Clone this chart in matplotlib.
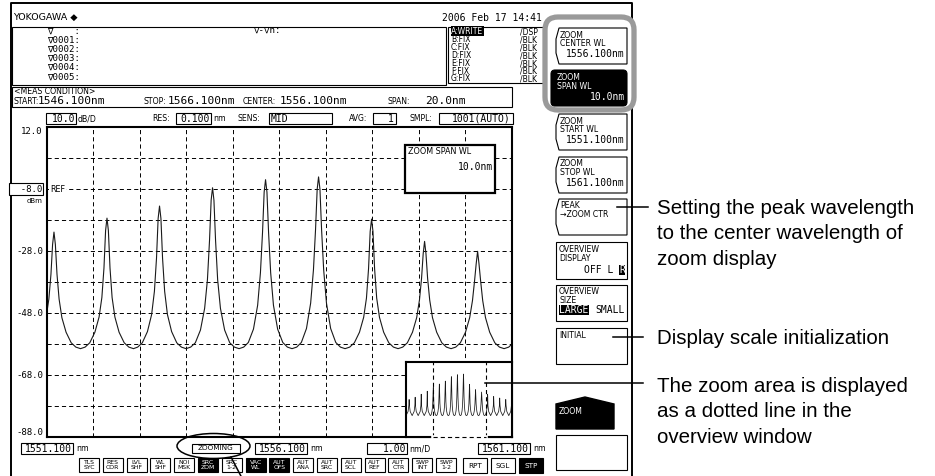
import matplotlib
matplotlib.use('Agg')
import matplotlib.pyplot as plt
from matplotlib.patches import Rectangle, Polygon, FancyBboxPatch, Ellipse

plt.rcParams['lines.scale_dashes'] = False
plt.rcParams['font.family'] = ['DejaVu Sans']

# ---- settings shown on the OSA screen
date_str = '2006 Feb 17 14:41'
meas_start, meas_stop, meas_center, meas_span = 1546.1, 1566.1, 1556.1, 20.0
zoom_start, zoom_center, zoom_stop, zoom_span = 1551.1, 1556.1, 1561.1, 10.0
ref_level = -8.0
db_div = 10.0
nm_div = 1.00
res_nm = 0.100
sens = 'MID'
avg = 1
smpl = '1001(AUTO)'

marker_rows = ['\u2207    :', '\u22070001:', '\u22070002:', '\u22070003:', '\u22070004:', '\u22070005:']
trace_names = ['A:WRITE', 'B:FIX', 'C:FIX', 'D:FIX', 'E:FIX', 'F:FIX', 'G:FIX']
trace_modes = ['/DSP', '/BLK', '/BLK', '/BLK', '/BLK', '/BLK', '/BLK']

btn_top = ['TLS', 'RES', 'LVL', 'WL', 'NOI', 'SRC', 'SRC', 'VAC', 'AUT', 'AUT', 'AUT', 'AUT', 'AUT', 'AUT', 'SWP', 'SWP']
btn_bot = ['SYC', 'COR', 'SHF', 'SHF', 'MSK', 'ZOM', '1-2', 'WL', 'OFS', 'ANA', 'SRC', 'SCL', 'REF', 'CTR', 'INT', '1-2']
btn_on = [0, 0, 0, 0, 0, 1, 0, 1, 1, 0, 0, 0, 0, 0, 0, 0]
sweep_btns = ['RPT', 'SGL', 'STP']
sweep_on = [0, 0, 1]

notes_peak = ['Setting the peak wavelength', 'to the center wavelength of', 'zoom display']
notes_init = ['Display scale initialization']
notes_zoom = ['The zoom area is displayed', 'as a dotted line in the', 'overview window']

trace_wl = [
    1546.10,
    1546.49, 1546.63, 1546.67, 1546.69, 1546.71, 1546.75, 1546.89, 1547.26,
    1547.63, 1547.77, 1547.81, 1547.83, 1547.85, 1547.89, 1548.03, 1548.40,
    1548.77, 1548.91, 1548.95, 1548.97, 1548.99, 1549.03, 1549.17, 1549.54,
    1549.91, 1550.05, 1550.09, 1550.11, 1550.13, 1550.17, 1550.31, 1550.68,
    1550.78, 1550.88, 1550.99, 1551.08, 1551.14, 1551.185, 1551.22, 1551.25, 1551.28, 1551.315, 1551.36, 1551.42, 1551.51, 1551.62, 1551.72, 1551.82,
    1551.92, 1552.02, 1552.13, 1552.22, 1552.28, 1552.325, 1552.36, 1552.39, 1552.42, 1552.455, 1552.50, 1552.56, 1552.65, 1552.76, 1552.86, 1552.96,
    1553.05, 1553.15, 1553.26, 1553.35, 1553.41, 1553.455, 1553.49, 1553.52, 1553.55, 1553.585, 1553.63, 1553.69, 1553.78, 1553.89, 1553.99, 1554.09,
    1554.19, 1554.29, 1554.40, 1554.49, 1554.55, 1554.595, 1554.63, 1554.66, 1554.69, 1554.725, 1554.77, 1554.83, 1554.92, 1555.03, 1555.13, 1555.23,
    1555.33, 1555.43, 1555.54, 1555.63, 1555.69, 1555.735, 1555.77, 1555.80, 1555.83, 1555.865, 1555.91, 1555.97, 1556.06, 1556.17, 1556.27, 1556.37,
    1556.47, 1556.57, 1556.68, 1556.77, 1556.83, 1556.875, 1556.91, 1556.94, 1556.97, 1557.005, 1557.05, 1557.11, 1557.20, 1557.31, 1557.41, 1557.51,
    1557.61, 1557.71, 1557.82, 1557.91, 1557.97, 1558.015, 1558.05, 1558.08, 1558.11, 1558.145, 1558.19, 1558.25, 1558.34, 1558.45, 1558.55, 1558.65,
    1558.75, 1558.85, 1558.96, 1559.05, 1559.11, 1559.155, 1559.19, 1559.22, 1559.25, 1559.285, 1559.33, 1559.39, 1559.48, 1559.59, 1559.69, 1559.79,
    1559.89, 1559.99, 1560.10, 1560.19, 1560.25, 1560.295, 1560.33, 1560.36, 1560.39, 1560.425, 1560.47, 1560.53, 1560.62, 1560.73, 1560.83, 1560.93,
    1561.03, 1561.13,
    1561.30, 1561.44, 1561.48, 1561.50, 1561.52, 1561.56, 1561.70, 1562.07,
    1562.44, 1562.58, 1562.62, 1562.64, 1562.66, 1562.70, 1562.84, 1563.21,
    1563.58, 1563.72, 1563.76, 1563.78, 1563.80, 1563.84, 1563.98, 1564.35,
    1564.72, 1564.86, 1564.90, 1564.92, 1564.94, 1564.98, 1565.12, 1565.49,
    1565.86, 1566.00, 1566.04, 1566.06, 1566.08, 1566.12,
]
trace_dbm = [
    -59.5,
    -54, -46, -41, -38, -41, -46, -54, -59.5,
    -54, -46, -38, -35, -38, -46, -54, -59.5,
    -54, -46, -34, -31, -34, -46, -54, -59.5,
    -54, -46, -30, -27, -30, -46, -54, -59.5,
    -59.0, -57.6, -54.2, -49.5, -43.5, -35.5, -25.9, -21.9, -25.9, -35.5, -43.5, -49.5, -54.2, -57.6, -59.0, -59.5,
    -59.0, -57.6, -54.2, -49.3, -43.0, -33.5, -21.4, -17.4, -21.4, -33.5, -43.0, -49.3, -54.2, -57.6, -59.0, -59.5,
    -59.0, -57.6, -54.0, -48.5, -41.0, -30.3, -17.5, -13.5, -17.5, -30.3, -41.0, -48.5, -54.0, -57.6, -59.0, -59.5,
    -59.0, -57.6, -53.5, -46.5, -37.3, -24.6, -11.6, -7.6, -11.6, -24.6, -37.3, -46.5, -53.5, -57.6, -59.0, -59.5,
    -59.0, -57.5, -53.2, -45.5, -35.0, -22.0, -9.0, -5.0, -9.0, -22.0, -35.0, -45.5, -53.2, -57.5, -59.0, -59.5,
    -59.0, -57.5, -53.0, -44.8, -34.1, -21.1, -8.1, -4.1, -8.1, -21.1, -34.1, -44.8, -53.0, -57.5, -59.0, -59.5,
    -59.0, -57.6, -54.2, -49.4, -43.2, -33.7, -21.7, -17.7, -21.7, -33.7, -43.2, -49.4, -54.2, -57.6, -59.0, -59.5,
    -59.0, -57.6, -54.2, -49.5, -43.8, -36.8, -28.9, -24.9, -28.9, -36.8, -43.8, -49.5, -54.2, -57.6, -59.0, -59.5,
    -59.0, -57.6, -54.2, -49.5, -44.0, -37.6, -32.1, -28.1, -32.1, -37.6, -44.0, -49.5, -54.2, -57.6, -59.0, -59.5,
    -59.0, -57.6,
    -54, -46, -34, -31, -34, -46, -54, -59.5,
    -54, -46, -37, -34, -37, -46, -54, -59.5,
    -54, -46, -39, -36, -39, -46, -54, -59.5,
    -54, -46, -41, -38, -41, -46, -54, -59.5,
    -54, -46, -43, -40, -43, -46,
]

top_db = ref_level + 2 * db_div
bot_db = ref_level - 8 * db_div

W, H = 935, 476
MONO = ['DejaVu Sans Mono', 'DejaVu Sans']
ARIAL = ['Liberation Sans', 'DejaVu Sans']
DOT = (0, (3.0, 2.2))

fig = plt.figure(figsize=(W / 100, H / 100), dpi=100)


def px_axes(x0, y0, x1, y1, z):
    return fig.add_axes([x0 / W, 1 - y1 / H, (x1 - x0) / W, (y1 - y0) / H], zorder=z)


def t(a, x, y, s, size=6, fam=None, ha='left', va='center', color='black', **kw):
    return a.text(x, y, s, fontsize=size, family=fam or ['DejaVu Sans'], ha=ha, va=va, color=color, **kw)


def rect(a, x0, y0, x1, y1, lw=0.8, fc='white', ec='black', z=2):
    a.add_patch(Rectangle((x0, y0), x1 - x0, y1 - y0, lw=lw, fc=fc, ec=ec, zorder=z))


# background layer in pixel coordinates
ax0 = px_axes(0, 0, W, H, 0)
ax0.set_xlim(0, W)
ax0.set_ylim(H, 0)
ax0.axis('off')

ax0.plot([11, 11, 632, 632], [H + 2, 3, 3, H + 2], color='black', lw=1.4, clip_on=False)
t(ax0, 13, 17, 'YOKOGAWA \u25c6', size=6.8)
t(ax0, 442, 18, date_str, size=7, fam=MONO)

# marker list box
rect(ax0, 12, 27, 446, 85)
t(ax0, 47, 26.5, '\n'.join(marker_rows), size=6.6, fam=MONO, va='top', linespacing=1.025)
t(ax0, 253, 30, '\u2207-\u2207n:', size=6.6, fam=MONO)

# trace list box
rect(ax0, 448, 27, 580, 83)
t(ax0, 451, 31, trace_names[0], size=5.5, color='white',
  bbox=dict(boxstyle='square,pad=0.05', fc='black', ec='none'))
t(ax0, 451, 35, '\n'.join(trace_names[1:]), size=5.5, va='top', linespacing=0.84)
t(ax0, 520, 27.5, '\n'.join(trace_modes), size=5.5, va='top', linespacing=0.84)

# measurement condition box
rect(ax0, 12, 87, 512, 107)
t(ax0, 14, 92, '<MEAS CONDITION>', size=5.6)
t(ax0, 14, 101, 'START:', size=5.6)
t(ax0, 38, 101, f'{meas_start:.3f}nm', size=8, fam=MONO)
t(ax0, 143, 101, 'STOP:', size=5.6)
t(ax0, 168, 101, f'{meas_stop:.3f}nm', size=8, fam=MONO)
t(ax0, 243, 101, 'CENTER:', size=5.6)
t(ax0, 280, 101, f'{meas_center:.3f}nm', size=8, fam=MONO)
t(ax0, 387, 101, 'SPAN:', size=5.6)
t(ax0, 466, 101, f'{meas_span:.1f}nm', size=8, fam=MONO, ha='right')

# settings row above the plot
yr = 118.5
rect(ax0, 46, 113, 76, 124)
t(ax0, 75, yr, f'{db_div:.1f}', size=7, fam=MONO, ha='right')
t(ax0, 78, yr, 'dB/D', size=5.6)
t(ax0, 152, yr, 'RES:', size=5.6)
rect(ax0, 176, 113, 211, 124)
t(ax0, 210, yr, f'{res_nm:.3f}', size=7, fam=MONO, ha='right')
t(ax0, 213, yr, 'nm', size=5.6)
t(ax0, 238, yr, 'SENS:', size=5.6)
rect(ax0, 269, 113, 332, 124)
t(ax0, 271, yr, sens, size=7, fam=MONO)
t(ax0, 349, yr, 'AVG:', size=5.6)
rect(ax0, 373, 113, 396, 124)
t(ax0, 394, yr, str(avg), size=7, fam=MONO, ha='right')
t(ax0, 410, yr, 'SMPL:', size=5.6)
rect(ax0, 439, 113, 513, 124)
t(ax0, 511, yr, smpl, size=7, fam=MONO, ha='right')

# wavelength labels under the plot
yb = 448.5
for x0, x1, val in [(21, 73, zoom_start), (255, 307, zoom_center), (478, 530, zoom_stop)]:
    rect(ax0, x0, 443, x1, 454)
    t(ax0, x1 - 1, yb, f'{val:.3f}', size=7, fam=MONO, ha='right')
    t(ax0, x1 + 3, yb, 'nm', size=5.6)
rect(ax0, 367, 443, 407, 454)
t(ax0, 406, yb, f'{nm_div:.2f}', size=7, fam=MONO, ha='right')
t(ax0, 409, yb, 'nm/D', size=5.6)
rect(ax0, 192, 444, 240, 453)
t(ax0, 216, yb, 'ZOOMING', size=5.2, ha='center')

# status buttons
for i, (a, b, on) in enumerate(zip(btn_top, btn_bot, btn_on)):
    x0 = 79 + 23.8 * i
    rect(ax0, x0, 458, x0 + 20, 472, fc='black' if on else 'white')
    t(ax0, x0 + 10, 465, a + '\n' + b, size=4.4, ha='center', linespacing=1.0,
      color='white' if on else 'black')
for i, (s, on) in enumerate(zip(sweep_btns, sweep_on)):
    x0 = 463 + 28 * i
    rect(ax0, x0, 458, x0 + 24, 473, fc='black' if on else 'white')
    t(ax0, x0 + 12, 465.5, s, size=5.2, ha='center', color='white' if on else 'black')

# soft keys
SX0, SX1 = 556, 627
KEY_LS = 0.9


def bracket_key(top, lines, value=None):
    bot = top + 36
    ax0.add_patch(Polygon([(SX0 + 3, top), (SX1, top), (SX1, bot), (SX0 + 3, bot),
                           (SX0, bot - 11), (SX0, top + 11)], closed=True,
                          fc='white', ec='black', lw=0.8, zorder=3))
    t(ax0, 560, top + 2.5, lines, size=5.6, va='top', linespacing=KEY_LS, zorder=4)
    if value:
        t(ax0, 625, top + 26, value, size=7, fam=MONO, ha='right', zorder=4)


ax0.add_patch(FancyBboxPatch((545, 17), 89, 93, boxstyle='round,pad=0,rounding_size=13',
                             fc='white', ec='#9a9a9a', lw=3.8, zorder=2.5))
bracket_key(28, 'ZOOM\nCENTER WL', f'{zoom_center:.3f}nm')
ax0.add_patch(FancyBboxPatch((551, 70), 76, 36, boxstyle='round,pad=0,rounding_size=4',
                             fc='black', ec='black', lw=0.8, zorder=3))
t(ax0, 557, 73.5, 'ZOOM\nSPAN WL', size=5.6, va='top', linespacing=KEY_LS, color='white', zorder=4)
t(ax0, 625, 97, f'{zoom_span:.1f}nm', size=7, fam=MONO, ha='right', color='white', zorder=4)
bracket_key(114, 'ZOOM\nSTART WL', f'{zoom_start:.3f}nm')
bracket_key(157, 'ZOOM\nSTOP WL', f'{zoom_stop:.3f}nm')
bracket_key(199, 'PEAK\n\u2192ZOOM CTR')

rect(ax0, SX0, 242, SX1, 279)
t(ax0, 559, 245.5, 'OVERVIEW\nDISPLAY', size=5.6, va='top', linespacing=KEY_LS)
t(ax0, 613, 270, 'OFF L', size=7, fam=MONO, ha='right')
t(ax0, 625, 270, 'R', size=7, fam=MONO, ha='right', color='white',
  bbox=dict(boxstyle='square,pad=0.05', fc='black', ec='none'))
rect(ax0, SX0, 285, SX1, 321)
t(ax0, 559, 287.5, 'OVERVIEW\nSIZE', size=5.6, va='top', linespacing=KEY_LS)
t(ax0, 559, 310, 'LARGE', size=7, fam=MONO, color='white',
  bbox=dict(boxstyle='square,pad=0.05', fc='black', ec='none'))
t(ax0, 625, 310, 'SMALL', size=7, fam=MONO, ha='right')
rect(ax0, SX0, 328, SX1, 364)
t(ax0, 559, 336, 'INITIAL', size=5.6)
ax0.add_patch(Polygon([(SX0, 404), (585, 397), (614, 404), (614, 429), (SX0, 429)],
                      closed=True, fc='black', ec='black', zorder=3))
t(ax0, 559, 412, 'ZOOM', size=5.6, color='white', zorder=4)
rect(ax0, SX0, 435, SX1, 470)

# explanation texts
NOTE_LS = 1.43
t(ax0, 657, 199, '\n'.join(notes_peak), size=14.8, fam=ARIAL, va='top', linespacing=NOTE_LS)
t(ax0, 657, 338, '\n'.join(notes_init), size=14.8, fam=ARIAL)
t(ax0, 657, 377, '\n'.join(notes_zoom), size=14.8, fam=ARIAL, va='top', linespacing=NOTE_LS)

# ---- zoomed spectrum
ax = px_axes(47, 127, 512, 437, 1)
ax.plot(trace_wl, trace_dbm, color='#1a1a1a', lw=0.8)
ax.set_xlim(zoom_start, zoom_stop)
ax.set_ylim(bot_db, top_db)
ax.set_xticks([zoom_start + nm_div * i for i in range(11)])
ax.set_yticks([bot_db + db_div * i for i in range(11)])
ax.tick_params(length=0, labelbottom=False, labelleft=False)
ax.grid(True, color='black', lw=0.7, linestyle=DOT)
for sp in ax.spines.values():
    sp.set_linewidth(1.5)

ytr = ax.get_yaxis_transform()
for v in [top_db, ref_level - 2 * db_div, ref_level - 4 * db_div, ref_level - 6 * db_div, bot_db]:
    dy = -3 if v == top_db else (3 if v == bot_db else 0)
    ax.annotate(f'{v:.1f}', xy=(0, v), xycoords=ytr, xytext=(-3, dy), textcoords='offset points',
                ha='right', va='center', fontsize=6.5, family=MONO, annotation_clip=False)
ax.annotate(f'{ref_level:6.1f}', xy=(0, ref_level), xycoords=ytr, xytext=(-3.5, 0),
            textcoords='offset points', ha='right', va='center', fontsize=6.5, family=MONO,
            annotation_clip=False,
            bbox=dict(boxstyle='square,pad=0.12', fc='white', ec='black', lw=0.8))
ax.annotate('dBm', xy=(0, ref_level), xycoords=ytr, xytext=(-3, -8.5), textcoords='offset points',
            ha='right', va='center', fontsize=5, annotation_clip=False)
ax.annotate('REF', xy=(0, ref_level), xycoords=ytr, xytext=(2, 0), textcoords='offset points',
            ha='left', va='center', fontsize=5.8, zorder=5,
            bbox=dict(boxstyle='square,pad=0.1', fc='white', ec='none'))

# ---- overview window
axi = px_axes(406, 362, 512, 437, 2)
axi.plot(trace_wl, trace_dbm, color='#1a1a1a', lw=0.55)
axi.set_xlim(meas_start, meas_stop)
axi.set_ylim(bot_db, top_db)
axi.set_xticks([])
axi.set_yticks([])
for sp in axi.spines.values():
    sp.set_linewidth(1.5)
axi.spines['bottom'].set_visible(False)
axi.plot([meas_start, zoom_start], [bot_db, bot_db], color='black', lw=1.5, clip_on=False)
axi.plot([zoom_stop, meas_stop], [bot_db, bot_db], color='black', lw=1.5, clip_on=False)
axi.plot([zoom_start, zoom_stop], [bot_db, bot_db], color='white', lw=2.6, clip_on=False, zorder=4)
axi.plot([zoom_start, zoom_stop], [bot_db, bot_db], color='black', lw=0.8, ls=DOT, clip_on=False, zorder=5)
axi.axvline(zoom_start, color='black', lw=0.8, ls=DOT)
axi.axvline(zoom_stop, color='black', lw=0.8, ls=DOT)

# ---- overlay: zoom span popup, callouts
axt = px_axes(0, 0, W, H, 3)
axt.set_xlim(0, W)
axt.set_ylim(H, 0)
axt.axis('off')
rect(axt, 405, 145, 495, 193, lw=1.6)
t(axt, 408, 152, 'ZOOM SPAN WL', size=5.8, zorder=4)
t(axt, 493, 167, f'{zoom_span:.1f}nm', size=7, fam=MONO, ha='right', zorder=4)
for x0, x1, y in [(617, 648, 207), (613, 643, 337), (485, 643, 383)]:
    axt.plot([x0, x1], [y, y], color='black', lw=1.1)
axt.add_patch(Ellipse((213.5, 446), 73, 25, fill=False, ec='black', lw=1.1))
axt.plot([231, 243], [457, 480], color='black', lw=1.1, clip_on=False)

fig.savefig('out.png', dpi=100)
